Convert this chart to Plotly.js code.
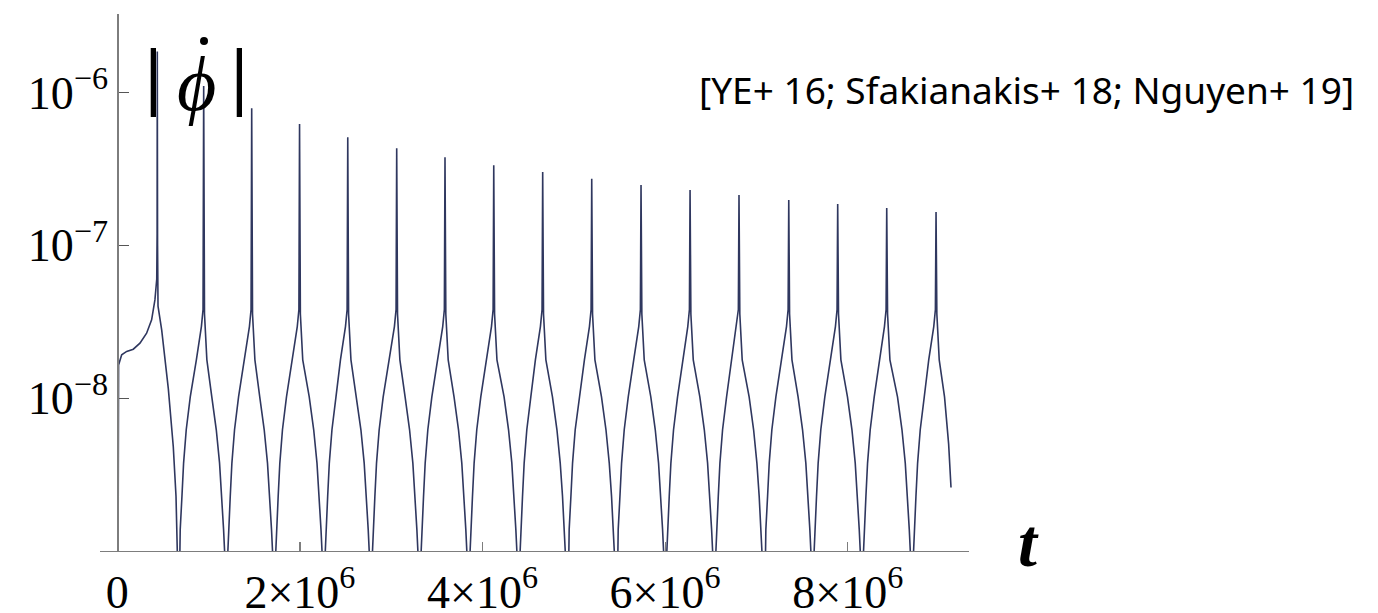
<!DOCTYPE html>
<html>
<head>
<meta charset="utf-8">
<script src="https://cdn.plot.ly/plotly-3.0.1.min.js"></script>
<style>html,body{margin:0;padding:0;background:#fff;}#chart{width:1378px;height:613px;}</style>
</head>
<body>
<div id="chart"></div>
<script>
// time in units of 10^6
const tMillions = [
  0.004,0.010,0.014,0.048,0.103,0.175,0.248,0.321,0.376,0.412,0.432,0.436,0.438,
  0.441,0.446,0.486,0.559,0.613,0.643,0.652,0.657,0.662,
  0.682,0.689,0.708,0.726,0.755,0.799,0.866,0.921,0.939,0.946,
  0.955,0.981,1.035,1.084,1.120,1.145,1.164,1.175,1.191,
  1.211,1.218,1.237,1.255,1.284,1.328,1.392,1.447,1.465,1.472,
  1.481,1.507,1.560,1.609,1.645,1.670,1.689,1.700,1.716,
  1.736,1.743,1.762,1.780,1.809,1.853,1.916,1.971,1.989,1.996,
  2.005,2.031,2.102,2.151,2.187,2.212,2.231,2.242,2.258,
  2.278,2.285,2.304,2.322,2.351,2.395,2.444,2.499,2.517,2.524,
  2.533,2.559,2.619,2.668,2.704,2.729,2.748,2.759,2.775,
  2.795,2.802,2.821,2.839,2.868,2.912,2.980,3.035,3.053,3.060,
  3.069,3.095,3.152,3.201,3.237,3.262,3.281,3.292,3.308,
  3.328,3.335,3.354,3.372,3.401,3.445,3.509,3.564,3.582,3.589,
  3.598,3.624,3.688,3.737,3.773,3.798,3.817,3.828,3.844,
  3.864,3.871,3.890,3.908,3.937,3.981,4.043,4.098,4.116,4.123,
  4.132,4.158,4.236,4.285,4.321,4.346,4.365,4.376,4.392,
  4.412,4.419,4.438,4.456,4.485,4.529,4.579,4.634,4.652,4.659,
  4.668,4.694,4.766,4.815,4.851,4.876,4.895,4.906,4.922,
  4.942,4.949,4.968,4.986,5.015,5.059,5.116,5.171,5.189,5.196,
  5.205,5.231,5.303,5.352,5.388,5.413,5.432,5.443,5.459,
  5.479,5.486,5.505,5.523,5.552,5.596,5.656,5.711,5.729,5.736,
  5.745,5.771,5.843,5.892,5.928,5.953,5.972,5.983,5.999,
  6.019,6.026,6.045,6.063,6.092,6.136,6.193,6.248,6.266,6.273,
  6.282,6.308,6.380,6.429,6.465,6.490,6.509,6.520,6.536,
  6.556,6.563,6.582,6.600,6.629,6.673,6.729,6.784,6.802,6.809,
  6.818,6.844,6.920,6.969,7.005,7.030,7.049,7.060,7.076,
  7.096,7.103,7.122,7.140,7.169,7.213,7.274,7.329,7.347,7.354,
  7.363,7.389,7.456,7.505,7.541,7.566,7.585,7.596,7.612,
  7.632,7.639,7.658,7.676,7.705,7.749,7.810,7.865,7.883,7.890,
  7.899,7.925,7.997,8.046,8.082,8.107,8.126,8.137,8.153,
  8.173,8.180,8.199,8.217,8.246,8.290,8.347,8.402,8.420,8.427,
  8.436,8.462,8.545,8.594,8.630,8.655,8.674,8.685,8.701,
  8.721,8.728,8.747,8.765,8.794,8.838,8.887,8.942,8.960,8.967,
  8.976,9.002,9.060,9.105,9.131
];

const phiDotAbs = [
  1e-10,1.0e-8,1.65e-8,1.92e-8,2.02e-8,2.09e-8,2.29e-8,2.66e-8,3.25e-8,4.39e-8,6.0e-8,1.2e-7,1.85e-6,
  1.0e-7,4.0e-8,2.80e-8,1.15e-8,4.83e-9,2.28e-9,1.4e-9,1.0e-9,1e-10,
  1.0e-9,1.38e-9,2.28e-9,3.76e-9,6.21e-9,1.02e-8,1.78e-8,2.94e-8,3.80e-8,1.10e-6,
  3.55e-8,1.78e-8,1.02e-8,6.21e-9,3.76e-9,2.28e-9,1.38e-9,1.0e-9,1e-10,
  1.0e-9,1.38e-9,2.28e-9,3.76e-9,6.21e-9,1.02e-8,1.78e-8,2.94e-8,3.80e-8,7.89e-7,
  3.55e-8,1.78e-8,1.02e-8,6.21e-9,3.76e-9,2.28e-9,1.38e-9,1.0e-9,1e-10,
  1.0e-9,1.38e-9,2.28e-9,3.76e-9,6.21e-9,1.02e-8,1.78e-8,2.94e-8,3.80e-8,6.22e-7,
  3.55e-8,1.78e-8,1.02e-8,6.21e-9,3.76e-9,2.28e-9,1.38e-9,1.0e-9,1e-10,
  1.0e-9,1.38e-9,2.28e-9,3.76e-9,6.21e-9,1.02e-8,1.78e-8,2.94e-8,3.80e-8,5.09e-7,
  3.55e-8,1.78e-8,1.02e-8,6.21e-9,3.76e-9,2.28e-9,1.38e-9,1.0e-9,1e-10,
  1.0e-9,1.38e-9,2.28e-9,3.76e-9,6.21e-9,1.02e-8,1.78e-8,2.94e-8,3.80e-8,4.32e-7,
  3.55e-8,1.78e-8,1.02e-8,6.21e-9,3.76e-9,2.28e-9,1.38e-9,1.0e-9,1e-10,
  1.0e-9,1.38e-9,2.28e-9,3.76e-9,6.21e-9,1.02e-8,1.78e-8,2.94e-8,3.80e-8,3.77e-7,
  3.55e-8,1.78e-8,1.02e-8,6.21e-9,3.76e-9,2.28e-9,1.38e-9,1.0e-9,1e-10,
  1.0e-9,1.38e-9,2.28e-9,3.76e-9,6.21e-9,1.02e-8,1.78e-8,2.94e-8,3.80e-8,3.34e-7,
  3.55e-8,1.78e-8,1.02e-8,6.21e-9,3.76e-9,2.28e-9,1.38e-9,1.0e-9,1e-10,
  1.0e-9,1.38e-9,2.28e-9,3.76e-9,6.21e-9,1.02e-8,1.78e-8,2.94e-8,3.80e-8,3.01e-7,
  3.55e-8,1.78e-8,1.02e-8,6.21e-9,3.76e-9,2.28e-9,1.38e-9,1.0e-9,1e-10,
  1.0e-9,1.38e-9,2.28e-9,3.76e-9,6.21e-9,1.02e-8,1.78e-8,2.94e-8,3.80e-8,2.72e-7,
  3.55e-8,1.78e-8,1.02e-8,6.21e-9,3.76e-9,2.28e-9,1.38e-9,1.0e-9,1e-10,
  1.0e-9,1.38e-9,2.28e-9,3.76e-9,6.21e-9,1.02e-8,1.78e-8,2.94e-8,3.80e-8,2.48e-7,
  3.55e-8,1.78e-8,1.02e-8,6.21e-9,3.76e-9,2.28e-9,1.38e-9,1.0e-9,1e-10,
  1.0e-9,1.38e-9,2.28e-9,3.76e-9,6.21e-9,1.02e-8,1.78e-8,2.94e-8,3.80e-8,2.30e-7,
  3.55e-8,1.78e-8,1.02e-8,6.21e-9,3.76e-9,2.28e-9,1.38e-9,1.0e-9,1e-10,
  1.0e-9,1.38e-9,2.28e-9,3.76e-9,6.21e-9,1.02e-8,1.78e-8,2.94e-8,3.80e-8,2.13e-7,
  3.55e-8,1.78e-8,1.02e-8,6.21e-9,3.76e-9,2.28e-9,1.38e-9,1.0e-9,1e-10,
  1.0e-9,1.38e-9,2.28e-9,3.76e-9,6.21e-9,1.02e-8,1.78e-8,2.94e-8,3.80e-8,1.98e-7,
  3.55e-8,1.78e-8,1.02e-8,6.21e-9,3.76e-9,2.28e-9,1.38e-9,1.0e-9,1e-10,
  1.0e-9,1.38e-9,2.28e-9,3.76e-9,6.21e-9,1.02e-8,1.78e-8,2.94e-8,3.80e-8,1.86e-7,
  3.55e-8,1.78e-8,1.02e-8,6.21e-9,3.76e-9,2.28e-9,1.38e-9,1.0e-9,1e-10,
  1.0e-9,1.38e-9,2.28e-9,3.76e-9,6.21e-9,1.02e-8,1.78e-8,2.94e-8,3.80e-8,1.75e-7,
  3.55e-8,1.78e-8,1.02e-8,6.21e-9,3.76e-9,2.28e-9,1.38e-9,1.0e-9,1e-10,
  1.0e-9,1.38e-9,2.28e-9,3.76e-9,6.21e-9,1.02e-8,1.78e-8,2.94e-8,3.80e-8,1.65e-7,
  3.55e-8,1.78e-8,1.02e-8,5.0e-9,2.6e-9
];

const xTickVals = [0, 2e6, 4e6, 6e6, 8e6];
const xTickText = ['0', '2×10<sup>6</sup>', '4×10<sup>6</sup>', '6×10<sup>6</sup>', '8×10<sup>6</sup>'];
const yTickVals = [1e-8, 1e-7, 1e-6];
const yTickText = ['10<sup>−8</sup>', '10<sup>−7</sup>', '10<sup>−6</sup>'];
const refText = '[YE+ 16; Sfakianakis+ 18; Nguyen+ 19]';

const t = tMillions.map(v => v * 1e6);

const serif = 'Liberation Serif, Times New Roman, serif';

const trace = {
  x: t, y: phiDotAbs, type: 'scatter', mode: 'lines',
  line: {color: '#2f375f', width: 1.6},
  hoverinfo: 'skip', showlegend: false
};

const layout = {
  width: 1378, height: 613,
  margin: {l: 100, r: 409, t: 14, b: 62},
  paper_bgcolor: '#fff', plot_bgcolor: '#fff',
  showlegend: false,
  xaxis: {
    range: [-0.1895e6, 9.328e6],
    showgrid: false, zeroline: false,
    showline: true, linecolor: '#7d7d7d', linewidth: 1.3,
    ticks: 'inside', ticklen: 9, tickcolor: '#7d7d7d', tickwidth: 1.2,
    tickvals: xTickVals, ticktext: xTickText,
    tickfont: {family: serif, size: 46, color: '#000'},
    ticklabelstandoff: 0
  },
  yaxis: {
    type: 'log', range: [-9.0, -5.487],
    anchor: 'free', position: 0.0199,
    showgrid: false, zeroline: false,
    showline: true, linecolor: '#7d7d7d', linewidth: 1.3,
    ticks: 'inside', ticklen: 10, tickcolor: '#555', tickwidth: 1.2,
    tickvals: yTickVals, ticktext: yTickText,
    tickfont: {family: serif, size: 46, color: '#000'}
  },
  shapes: [
    {type: 'circle', xref: 'paper', yref: 'paper', x0: 0.1151, x1: 0.1243, y0: 0.9423, y1: 0.9572,
     fillcolor: '#000', line: {width: 0}}
  ],
  annotations: [
    {xref: 'paper', yref: 'paper', x: 0.061, y: 0.8864, xanchor: 'center', yanchor: 'middle',
     text: '<b>|</b>', showarrow: false,
     font: {family: serif, size: 76, color: '#000'}},
    {xref: 'paper', yref: 'paper', x: 0.1611, y: 0.8864, xanchor: 'center', yanchor: 'middle',
     text: '<b>|</b>', showarrow: false,
     font: {family: serif, size: 76, color: '#000'}},
    {xref: 'paper', yref: 'paper', x: 0.1105, y: 0.8705, xanchor: 'center', yanchor: 'middle',
     text: '<i>ϕ</i>', showarrow: false,
     font: {family: serif, size: 76, color: '#000'}},
    {xref: 'paper', yref: 'paper', x: 1.069, y: 0.0149, xanchor: 'center', yanchor: 'middle',
     text: '<b><i>t</i></b>', showarrow: false,
     font: {family: serif, size: 68, color: '#000'}},
    {xref: 'paper', yref: 'paper', x: 1.0667, y: 0.86, xanchor: 'center', yanchor: 'middle',
     text: refText, showarrow: false,
     font: {family: 'Noto Sans, Lato, sans-serif', size: 37, color: '#000'}}
  ]
};

Plotly.newPlot('chart', [trace], layout, {staticPlot: true, displayModeBar: false});
</script>
</body>
</html>
